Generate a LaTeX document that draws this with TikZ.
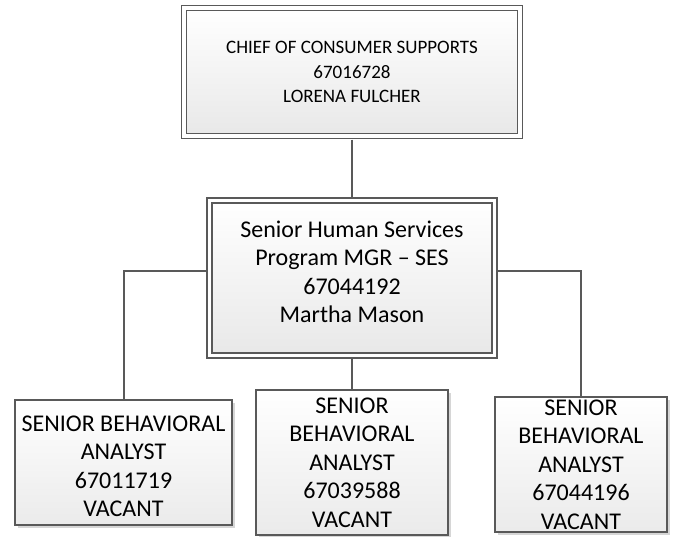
\documentclass[tikz,border=0pt]{standalone}
\usepackage{fontspec}
\setmainfont{Carlito}
\usepackage{tikz}
\usetikzlibrary{shadows}
\definecolor{boxline}{HTML}{595959}

\begin{document}
\begin{tikzpicture}[x=1pt, y=-1pt,
  headbox/.style={draw=boxline, line width=1.3pt, double=white, double distance=3.5pt,
    top color=white, bottom color=black!9, inner sep=0pt, align=center},
  posbox/.style={draw=boxline, line width=1.4pt, top color=white, bottom color=black!8,
    inner sep=0pt, align=center, font=\fontsize{24}{28.5}\selectfont,
    drop shadow={shadow xshift=3pt, shadow yshift=-3pt, fill=black!16, opacity=1}},
  conn/.style={draw=boxline, line width=2pt}
]
  \useasboundingbox (0,0) rectangle (675,537);

  \node[headbox, minimum width=336pt, minimum height=128pt,
    font=\fontsize{19}{24.5}\selectfont] (chief) at (352,72)
    {CHIEF OF CONSUMER SUPPORTS\\67016728\\LORENA FULCHER};

  \node[headbox, minimum width=285pt, minimum height=155pt, text depth=13pt,
    font=\fontsize{24}{28.5}\selectfont] (mgr) at (352,278)
    {Senior Human Services\\Program MGR – SES\\67044192\\Martha Mason};

  \node[posbox, minimum width=217pt, minimum height=125pt, text height=109pt] (sba1)
    at (123.5,462.5) {SENIOR BEHAVIORAL\\ANALYST\\67011719\\VACANT};
  \node[posbox, minimum width=192pt, minimum height=145pt] (sba2) at (352,462.5)
    {SENIOR\\BEHAVIORAL\\ANALYST\\67039588\\VACANT};
  \node[posbox, minimum width=172pt, minimum height=135pt] (sba3) at (581,464.5)
    {SENIOR\\BEHAVIORAL\\ANALYST\\67044196\\VACANT};

  \draw[conn, shorten <=3pt, shorten >=3pt] (chief.south) -- (mgr.north);
  \draw[conn, shorten <=3pt] ([yshift=7pt]mgr.west) -| (sba1.north);
  \draw[conn, shorten <=3pt] ([yshift=7pt]mgr.east) -| (sba3.north);
  \draw[conn, shorten <=3pt] (mgr.south) -- (sba2.north);
\end{tikzpicture}
\end{document}
